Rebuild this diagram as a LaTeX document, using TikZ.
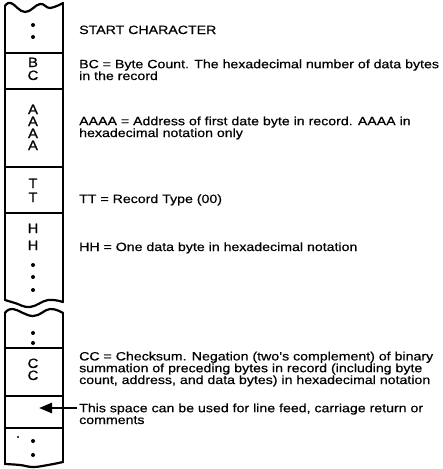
\documentclass[tikz,border=0pt]{standalone}
\usepackage{fontspec}
\setmainfont{Liberation Sans}[FakeStretch=1.18,FakeBold=0.5]
\newfontfamily\cellfont{Liberation Sans}[FakeStretch=1.1,FakeBold=0.7]
\usetikzlibrary{arrows.meta}
\begin{document}
\begin{tikzpicture}[x=1pt,y=-1pt,
  edge/.style={line width=2.2pt, line cap=round, line join=round},
  rule/.style={line width=2.2pt},
  lab/.style={anchor=base west, inner sep=0pt, align=left, font=\fontsize{12}{11.8}\selectfont},
  cell/.style={anchor=base, inner sep=0pt, text height=9.3pt, text depth=0pt, font=\cellfont\fontsize{13.5}{13.5}\selectfont},
  blob/.style={fill=black, draw=none},
  pointer/.style={line width=2.6pt, -{Triangle[length=13pt,width=10pt]}}
]
\useasboundingbox (0,0) rectangle (443,469);
% ---------- upper piece ----------
\draw[edge] plot[smooth,tension=.7] coordinates {(5,6) (11,3) (25,12) (40,4) (50,8) (63,3)};
\draw[edge] (5,6) -- (5,300);
\draw[edge] (63,3) -- (63,302);
\draw[edge] plot[smooth,tension=.7] coordinates {(5,300) (15,303) (30,307) (48,300) (63,302)};
\draw[rule] (5,53) -- (63,53);
\draw[rule] (5,89) -- (63,89);
\draw[rule] (5,167) -- (63,167);
\draw[rule] (5,213) -- (63,213);
% ---------- lower piece ----------
\draw[edge] plot[smooth,tension=.7] coordinates {(5,313) (13,309) (33,316) (50,309) (63,313)};
\draw[edge] (5,313) -- (5,464);
\draw[edge] (63,313) -- (63,462);
\draw[edge] plot[smooth,tension=.7] coordinates {(5,464) (20,465) (33,467) (48,465) (63,462)};
\draw[rule] (5,348) -- (63,348);
\draw[rule] (5,396) -- (63,396);
\draw[rule] (5,428) -- (63,428);
% ---------- dots ----------
\fill[blob] (33,25) circle (2);
\fill[blob] (33,37) circle (2);
\fill[blob] (33,265) circle (2);
\fill[blob] (33,277) circle (2);
\fill[blob] (33,290) circle (2);
\fill[blob] (33,333) circle (2);
\fill[blob] (33,343) circle (2);
\fill[blob] (18,437) circle (1.1);
\fill[blob] (33,441) circle (2);
\fill[blob] (33,455) circle (2);
% ---------- cell letters ----------
\node[cell] (b1) at (33,67) {B};
\node[cell] (c1) at (33,80) {C};
\node[cell] (a1) at (33,114) {A};
\node[cell] (a2) at (33,126) {A};
\node[cell] (a3) at (33,138) {A};
\node[cell] (a4) at (33,150) {A};
\node[cell] (t1) at (33,188) {T};
\node[cell] (t2) at (33,202) {T};
\node[cell] (h1) at (33,233) {H};
\node[cell] (h2) at (33,250) {H};
\node[cell] (k1) at (33,368) {C};
\node[cell] (k2) at (33,380) {C};
% ---------- descriptions (y = baseline of last line) ----------
\node[lab] (start) at (79,34) {START CHARACTER};
\node[lab] (bc) at (79,80) {BC = Byte Count. The hexadecimal number of data bytes\\in the record};
\node[lab] (aaaa) at (79,137) {AAAA = Address of first date byte in record. AAAA in\\hexadecimal notation only};
\node[lab] (tt) at (79,203) {TT = Record Type (00)};
\node[lab] (hh) at (79,251) {HH = One data byte in hexadecimal notation};
\node[lab] (cc) at (79,384) {CC = Checksum. Negation (two's complement) of binary\\summation of preceding bytes in record (including byte\\count, address, and data bytes) in hexadecimal notation};
\node[lab] (space) at (79,424) {This space can be used for line feed, carriage return or\\comments};
% ---------- arrow ----------
\coordinate (tail) at (77,408);
\coordinate (tip) at (39,408);
\draw[pointer] (tail) -- (tip);
\end{tikzpicture}
\end{document}
